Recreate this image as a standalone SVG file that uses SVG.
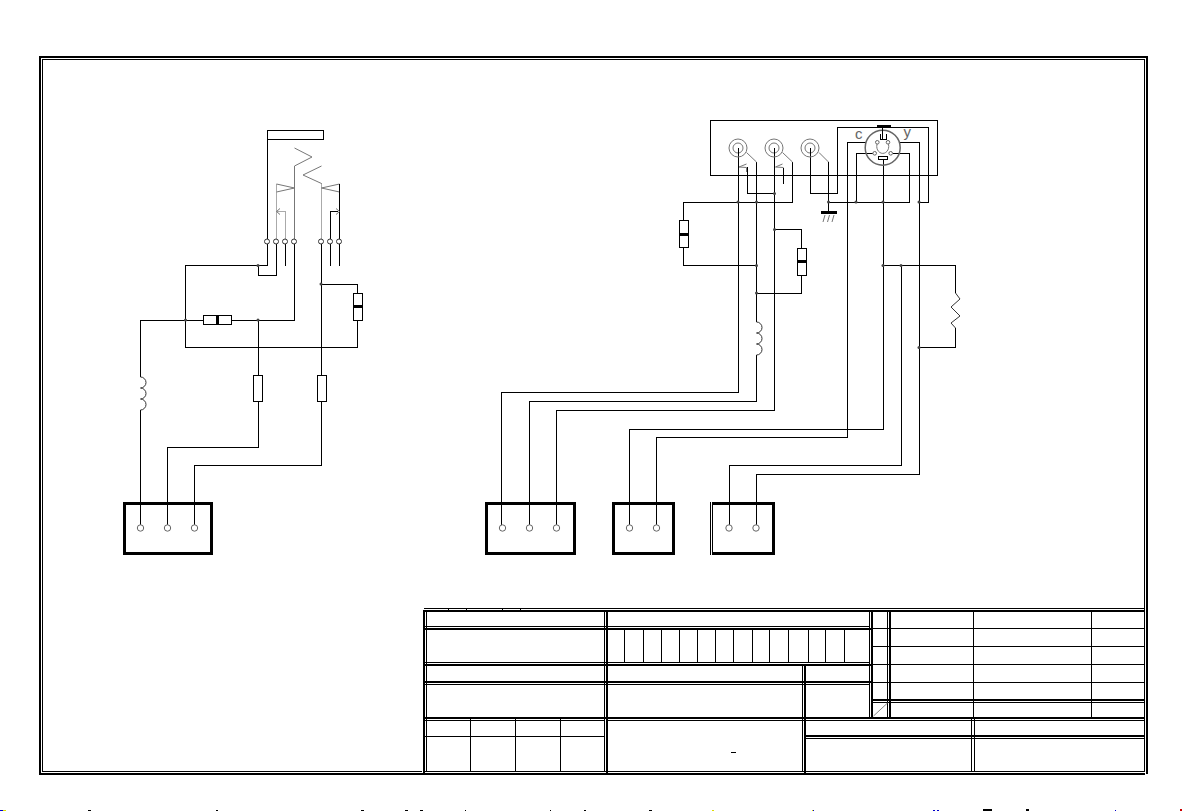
<svg xmlns="http://www.w3.org/2000/svg" width="1182" height="811" viewBox="0 0 1182 811">
<style>
.w{fill:none;stroke:#000;stroke-width:1;shape-rendering:crispEdges}
.g{fill:none;stroke:#777;stroke-width:1}
.lg{fill:none;stroke:#aaa;stroke-width:1;shape-rendering:crispEdges}
.c{fill:none;stroke:#333;stroke-width:1}
.p{fill:#fff;stroke:#666;stroke-width:1}
.r{fill:#fff;stroke:#000;stroke-width:1;shape-rendering:crispEdges}
.b{fill:#000;shape-rendering:crispEdges}
.d{fill:#444}
.box{fill:none;stroke:#000;stroke-width:3;shape-rendering:crispEdges}
.th{fill:none;stroke:#000;stroke-width:2;shape-rendering:crispEdges}
.tn{fill:none;stroke:#000;stroke-width:1;shape-rendering:crispEdges}
.t{font-family:"Liberation Sans",Arial,sans-serif;font-size:15px;fill:#666}
</style>
<rect width="1182" height="811" fill="#fff"/>

<g id="frame">
<path class="th" d="M40 774V57H1147V774"/>
<path class="tn" d="M42.500 771V59.500H1144.500V771"/>
<path class="th" d="M39 774H424"/>
<path class="tn" d="M42 771.500H422"/>
</g>

<g id="connectors">
<!-- left circuit -->
<path class="w" d="M267.500 139V239M267.500 244V265.500H185.500V347.500H357.500V320.500M357.500 293.500V284.500H321.500"/>
<path class="w" d="M258 265.500V275.500H276.500V244M285.500 244V266M330.500 244V266M339.500 244V266"/>
<path class="w" d="M294.500 244V320.500H231.500M203.500 320.500H140.500V377M140.500 410V525"/>
<path class="w" d="M258.500 320.500V375M258.500 401V447.500H167.500V525"/>
<path class="w" d="M321.500 244V375M321.500 401V465.500H194.500V525"/>
<!-- right circuit -->
<path class="w" d="M738.500 156V392.500H501.500V525"/>
<path class="w" d="M756.500 162V322M756.500 355V401.500H529.500V525"/>
<path class="w" d="M774.500 156V410.500H556.500V525"/>
<path class="w" d="M792.500 162V202.500H683.500V220M683.500 247V265.500H756.500"/>
<path class="w" d="M774.500 229.500H801.500V248M801.500 275V293.500H756.500"/>
<path class="w" d="M774.500 193.500H747.500V167"/>
<path class="w" d="M810.500 156V193.500H837.500V127.500H928.500V202.500H919"/>
<path class="w" d="M828.500 162V211"/>
<path class="w" d="M828.500 202.500H909.500V153.500H893M874 153.500H856.500V202.500"/>
<path class="w" d="M866 142.500H847.500V437.500H656.500V525"/>
<path class="w" d="M900 142.500H919.500V474.500H756.500V525"/>
<path class="w" d="M883.500 160V429.500H629.500V525"/>
<path class="w" d="M883.500 265.500H955.500V293M955.500 328V347.500H919.500"/>
<path class="w" d="M901.500 265.500V465.500H729.500V525"/>
<path class="w" d="M783.500 184V167.500"/>
<g class="d">
<circle cx="258" cy="265.500" r="1.500"/><circle cx="321" cy="284" r="1.500"/><circle cx="185.500" cy="320" r="1.500"/><circle cx="258" cy="320" r="1.500"/>
<circle cx="738" cy="202" r="1.500"/><circle cx="756.500" cy="202" r="1.500"/><circle cx="774.500" cy="193.500" r="1.500"/><circle cx="774.500" cy="229.500" r="1.500"/><circle cx="756.500" cy="265.500" r="1.500"/><circle cx="756.500" cy="293" r="1.500"/>
<circle cx="828.500" cy="202" r="1.500"/><circle cx="856" cy="202" r="1.500"/><circle cx="883" cy="202" r="1.500"/><circle cx="919" cy="202" r="1.500"/><circle cx="883" cy="265.500" r="1.500"/><circle cx="901" cy="265.500" r="1.500"/><circle cx="919" cy="347.500" r="1.500"/>
</g>
</g>

<g id="switch-left">
<rect class="r" x="267.500" y="130.500" width="56" height="9"/>
<path class="lg" d="M276.500 239V184"/>
<path class="g" d="M276.500 184L294.500 188L276.500 192M294.500 239V166L312 157L294.500 148"/>
<path class="lg" d="M285.500 239V211.500H277"/>
<path class="g" d="M280 208.500L276.500 211.500L280 214.500"/>
<circle class="c" cx="267" cy="241.500" r="2.500"/><circle class="c" cx="276" cy="241.500" r="2.500"/><circle class="c" cx="285" cy="241.500" r="2.500"/><circle class="c" cx="294" cy="241.500" r="2.500"/>
</g>
<g id="switch-right">
<path class="lg" d="M321.500 239V183"/>
<path class="g" d="M321.500 183.500L303 175L321.500 166M339.500 184L321.500 188L339.500 192"/>
<path class="w" d="M339.500 239V184M330.500 239V211.500H338"/>
<path class="g" d="M336 208.500L339.500 211.500L336 214.500"/>
<circle class="c" cx="321" cy="241.500" r="2.500"/><circle class="c" cx="330" cy="241.500" r="2.500"/><circle class="c" cx="339" cy="241.500" r="2.500"/>
</g>

<g id="R-horizontal"><rect class="r" x="203.500" y="315.500" width="28" height="9"/><rect class="b" x="216" y="315" width="3" height="10"/></g>
<g id="R-right-left"><rect class="r" x="353.500" y="293.500" width="9" height="27"/><rect class="b" x="353" y="305" width="10" height="3"/></g>
<g id="R-lower-1"><rect class="r" x="253.500" y="375.500" width="9" height="26"/></g>
<g id="R-lower-2"><rect class="r" x="317" y="375.500" width="9" height="26"/></g>
<g id="L-left"><path class="c" d="M140.500 377a5.500 5.500 0 0 1 0 11a5.500 5.500 0 0 1 0 11a5.500 5.500 0 0 1 0 11"/></g>

<g id="connector-1"><rect class="box" x="124" y="503" width="87" height="50.500"/><circle class="p" cx="140.500" cy="528" r="3.200"/><circle class="p" cx="167.500" cy="528" r="3.200"/><circle class="p" cx="194.500" cy="528" r="3.200"/></g>
<g id="connector-2"><rect class="box" x="486" y="503" width="88" height="50.500"/><circle class="p" cx="502.500" cy="528" r="3.200"/><circle class="p" cx="529.500" cy="528" r="3.200"/><circle class="p" cx="556.500" cy="528" r="3.200"/></g>
<g id="connector-3"><rect class="box" x="613" y="503" width="60" height="50.500"/><circle class="p" cx="629.500" cy="528" r="3.200"/><circle class="p" cx="656.500" cy="528" r="3.200"/></g>
<g id="connector-4"><path class="box" d="M712 503H773V553.500H712"/><path class="tn" d="M710.500 502V555M712.500 502V555"/><circle class="p" cx="729" cy="528" r="3.200"/><circle class="p" cx="756" cy="528" r="3.200"/></g>

<g id="panel"><rect class="tn" x="710.500" y="120.500" width="227" height="55" style="fill:none"/></g>
<g id="rca-1"><circle class="g" cx="738" cy="148" r="9"/><circle class="g" cx="738" cy="148" r="5"/><path class="w" d="M738.500 148V156"/><path class="g" d="M746.500 152.500L756.500 162"/>
<path class="g" d="M746.500 164L739 167L746.500 167.500V172"/></g>
<g id="rca-2"><circle class="g" cx="774" cy="148" r="9"/><circle class="g" cx="774" cy="148" r="5"/><path class="w" d="M774.500 148V156"/><path class="g" d="M782.500 152.500L792.500 162"/>
<path class="g" d="M782.500 164L775.500 167L783.500 167.500"/></g>
<g id="rca-3"><circle class="g" cx="810" cy="148" r="9"/><circle class="g" cx="810" cy="148" r="5"/><path class="w" d="M810.500 148V156"/><path class="g" d="M819 152.500L828.500 162"/></g>
<g id="din-socket">
<circle cx="882.700" cy="147.700" r="17.500" fill="none" stroke="#666" stroke-width="1.500"/>
<rect class="b" x="877" y="125" width="14" height="2"/>
<path class="w" d="M882.500 127V139M880.500 134V139.500H886.500V134"/>
<path class="g" d="M877.500 143a6 7 0 1 0 10.500 0"/>
<circle class="p" cx="877.300" cy="142.300" r="1.800"/><circle class="p" cx="888" cy="142.300" r="1.800"/><circle class="p" cx="874.700" cy="153.300" r="1.800"/><circle class="p" cx="890.700" cy="153.300" r="1.800"/>
<rect class="r" x="878.500" y="156.500" width="9" height="3"/>
<text class="t" x="855" y="139">c</text><text class="t" x="903.500" y="137">y</text>
</g>
<g id="ground"><rect class="b" x="821" y="211" width="16" height="3"/><path class="g" d="M825 215L823 222M829.500 215L827.500 222M834 215L832 222"/></g>
<g id="C-left"><rect class="r" x="679.500" y="220.500" width="9" height="27"/><rect class="b" x="679" y="233" width="10" height="3"/></g>
<g id="C-right"><rect class="r" x="797.500" y="248.500" width="9" height="27"/><rect class="b" x="797" y="260" width="10" height="3"/></g>
<g id="L-right"><path class="c" d="M756.500 322a5.500 5.500 0 0 1 0 11a5.500 5.500 0 0 1 0 11a5.500 5.500 0 0 1 0 11"/></g>
<g id="R-zigzag"><path class="c" d="M955.500 293L960 299L951 307L960 316L951 323L955.500 328"/></g>

<g id="title-block">
<path class="tn" d="M424 608.500H1145"/>
<path class="th" d="M424 611H1145"/>
<path class="tn" d="M448.500 608V610M466.500 608V610M502.500 608V610M520.500 608V610"/>
<path class="th" d="M424 610V775"/>
<path class="tn" d="M426.500 610V771"/>
<path class="tn" d="M424 771.500H1145"/>
<path class="th" d="M424 774H1145"/>
<path class="tn" d="M424 626.500H870"/><path class="th" d="M424 629H871"/>
<path class="tn" d="M424 662.500H870"/><path class="th" d="M424 665H871"/>
<path class="th" d="M424 682H871"/><path class="tn" d="M424 684.500H870"/>
<path class="th" d="M424 718H1145"/><path class="tn" d="M606 720.500H1145"/>
<path class="tn" d="M424 720.500H605"/>
<path class="tn" d="M424 736.500H605"/>
<path class="tn" d="M604.500 610V772"/><path class="th" d="M607 610V773"/>
<path class="tn" d="M802.500 665V772"/><path class="th" d="M805 665V773"/>
<path class="tn" d="M470.500 718V772M515.500 718V772M560.500 718V772"/>
<path class="tn" d="M624.500 629V662M643.500 629V662M661.500 629V662M679.500 629V662M697.500 629V662M715.500 629V662M733.500 629V662M752.500 629V662M769.500 629V662M788.500 629V662M808.500 629V662M825.500 629V662M844.500 629V662"/>
<rect class="b" x="731" y="752" width="5" height="1"/>
<path class="tn" d="M869.500 610V718"/><path class="th" d="M872 610V718"/>
<path class="tn" d="M887.500 610V718"/><path class="th" d="M890 610V718"/>
<path class="tn" d="M872 628.500H1145M872 646.500H1145M872 664.500H1145M872 682.500H1145"/>
<path class="th" d="M872 700H1145"/><path class="tn" d="M872 702.500H1145"/>
<path class="tn" d="M973.500 610V718M1091.500 610V718"/>
<path d="M873.500 716L887.500 703" fill="none" stroke="#888" stroke-width="1"/>
<path class="th" d="M805 736H1145"/><path class="tn" d="M805 738.500H1145"/>
<path class="tn" d="M971.500 718V772M974.500 718V772"/>
</g>

<g id="edge-specks">
<path class="b" d="M88 810h3v1h-3zM216 810h2v1h-2zM361 810h3v1h-3zM405 810h3v1h-3zM420 810h3v1h-3zM465 810h1v1h-1zM550 810h1v1h-1zM584 810h2v1h-2zM649 810h3v1h-3zM983 809h9v2h-9zM1026 809h3v2h-3z"/>
<path d="M0 810h3v1H0zM813 810h1v1h-1zM933 810h2v1h-2zM937 810h2v1h-2zM1115 810h1v1h-1z" fill="#00c" shape-rendering="crispEdges"/>
<path d="M3 810h3v1H3zM712 810h2v1h-2zM812 810h1v1h-1z" fill="#dd0" shape-rendering="crispEdges"/>
<path d="M1180 809h2v2h-2z" fill="#c00" shape-rendering="crispEdges"/>
</g>
</svg>
